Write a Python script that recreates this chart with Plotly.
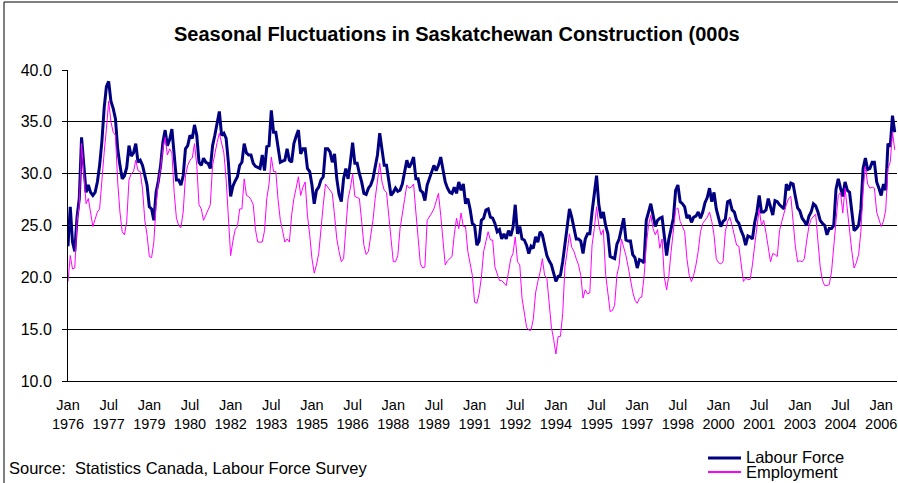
import plotly.graph_objects as go

# Monthly values, Jan 1976 - Jul 2006 (thousands), one year per line
labour_force = [
    23.0, 26.8, 23.4, 22.5, 25.8, 27.6, 33.5, 30.5, 28.2, 28.9, 28.2, 27.9,  # 1976
    28.2, 29.2, 30.8, 33.1, 36.3, 38.4, 38.9, 37.0, 36.3, 35.3, 32.4, 30.8,  # 1977
    29.5, 29.8, 30.6, 32.7, 31.7, 32.0, 32.9, 31.1, 31.3, 30.8, 29.9, 28.9,  # 1978
    26.8, 26.6, 25.5, 28.2, 29.3, 30.8, 33.0, 34.2, 32.7, 33.3, 34.3, 31.9,  # 1979
    29.4, 29.4, 28.9, 29.8, 32.4, 32.7, 33.7, 33.4, 34.7, 33.7, 31.1, 30.8,  # 1980
    31.5, 31.1, 31.0, 30.5, 32.7, 33.7, 34.7, 36.0, 33.7, 33.9, 33.4, 31.1,  # 1981
    27.8, 28.8, 29.3, 29.7, 30.8, 31.1, 32.9, 32.0, 31.8, 31.8, 31.0, 30.7,  # 1982
    30.6, 30.5, 31.8, 30.3, 32.6, 32.7, 36.1, 34.0, 34.0, 32.5, 31.1, 31.2,  # 1983
    31.3, 32.4, 31.3, 31.1, 32.9, 33.6, 34.2, 31.9, 32.4, 32.4, 30.5, 30.2,  # 1984
    28.9, 27.1, 28.4, 28.7, 29.4, 29.7, 32.4, 32.4, 32.1, 31.1, 31.9, 29.5,  # 1985
    28.0, 27.3, 29.5, 30.5, 29.5, 31.1, 33.0, 31.0, 31.0, 30.0, 29.2, 28.1,  # 1986
    28.0, 28.6, 28.9, 29.5, 30.8, 31.8, 33.9, 32.2, 30.8, 30.8, 29.5, 27.9,  # 1987
    28.2, 28.6, 28.3, 28.4, 29.0, 30.2, 31.3, 30.6, 31.0, 31.6, 29.5, 29.5,  # 1988
    28.4, 28.2, 27.4, 28.9, 29.5, 30.0, 30.8, 30.3, 30.8, 31.6, 30.2, 29.2,  # 1989
    28.6, 28.2, 28.1, 28.7, 28.1, 29.2, 28.4, 29.0, 27.1, 27.6, 26.6, 25.2,  # 1990
    25.0, 23.1, 23.5, 25.5, 25.7, 26.5, 26.6, 25.8, 25.7, 25.2, 24.4, 24.6,  # 1991
    23.7, 24.2, 23.7, 24.5, 24.0, 24.8, 27.0, 24.2, 24.9, 23.7, 23.6, 23.1,  # 1992
    22.3, 23.0, 22.8, 23.9, 23.4, 24.4, 24.1, 23.0, 22.1, 21.6, 21.2, 20.4,  # 1993
    19.6, 20.1, 20.2, 21.5, 23.1, 24.9, 26.6, 25.8, 24.7, 23.7, 23.7, 23.5,  # 1994
    22.3, 23.7, 24.2, 24.2, 26.3, 27.9, 29.8, 27.0, 25.7, 26.3, 25.0, 24.2,  # 1995
    22.0, 21.9, 21.8, 23.2, 23.7, 24.7, 25.7, 23.6, 23.5, 23.5, 22.2, 21.9,  # 1996
    20.9, 21.7, 21.6, 21.4, 25.5, 26.3, 27.1, 26.0, 24.9, 25.5, 25.7, 25.8,  # 1997
    23.6, 22.1, 23.7, 24.7, 25.7, 28.4, 28.9, 27.3, 27.1, 26.8, 25.7, 26.0,  # 1998
    25.3, 25.8, 25.9, 26.3, 25.7, 26.3, 27.2, 27.7, 28.6, 27.3, 28.2, 26.6,  # 1999
    25.7, 24.9, 25.4, 25.6, 27.3, 27.4, 26.5, 26.3, 25.5, 25.2, 24.5, 24.0,  # 2000
    23.1, 24.0, 23.9, 23.7, 25.3, 26.3, 27.9, 26.3, 26.3, 26.5, 27.6, 26.9,  # 2001
    26.0, 27.4, 27.3, 27.0, 26.8, 26.6, 29.0, 28.4, 29.1, 29.0, 27.8, 26.7,  # 2002
    26.4, 25.7, 25.4, 25.0, 25.9, 26.3, 27.1, 26.9, 26.3, 25.5, 25.2, 25.0,  # 2003
    24.1, 24.7, 24.7, 25.0, 28.5, 29.5, 28.6, 27.8, 29.2, 28.4, 28.2, 26.0,  # 2004
    24.5, 24.7, 25.0, 26.6, 30.5, 31.5, 30.4, 30.5, 31.1, 31.1, 29.2, 28.6,  # 2005
    27.9, 29.0, 28.4, 32.9, 32.6, 35.6, 34.0,                                # 2006
]

employment = [
    19.6, 22.1, 20.8, 20.9, 25.4, 27.0, 32.9, 29.8, 27.1, 27.6, 26.3, 24.9,  # 1976
    25.6, 26.3, 26.6, 29.5, 32.0, 34.3, 37.0, 35.0, 34.0, 33.7, 29.2, 26.3,  # 1977
    24.4, 24.1, 25.4, 29.4, 30.0, 30.2, 31.3, 30.3, 30.2, 28.5, 25.5, 24.1,  # 1978
    22.0, 21.9, 23.4, 27.0, 29.2, 30.5, 32.4, 33.5, 31.8, 32.4, 32.0, 28.2,  # 1979
    25.7, 25.0, 24.8, 26.3, 29.8, 30.8, 31.3, 31.5, 32.9, 30.8, 27.0, 26.6,  # 1980
    25.5, 26.0, 26.5, 27.0, 30.8, 32.1, 33.0, 33.9, 32.8, 32.0, 29.5, 26.3,  # 1981
    22.1, 23.5, 24.6, 24.9, 26.6, 26.6, 29.5, 27.9, 27.8, 27.5, 27.0, 24.6,  # 1982
    23.4, 23.4, 23.4, 24.5, 27.6, 29.0, 31.6, 30.2, 30.2, 27.5, 25.5, 24.5,  # 1983
    23.4, 23.7, 23.4, 26.0, 27.6, 28.6, 29.7, 27.9, 28.7, 29.2, 26.0, 24.1,  # 1984
    21.8, 20.4, 21.2, 22.3, 25.0, 27.0, 29.0, 28.7, 28.5, 28.1, 26.0, 23.7,  # 1985
    22.5, 21.5, 21.8, 24.4, 27.6, 28.6, 30.0, 27.8, 27.7, 27.6, 25.4, 23.1,  # 1986
    22.2, 22.5, 24.0, 25.5, 27.6, 29.2, 31.0, 29.2, 28.4, 28.2, 26.0, 23.7,  # 1987
    21.5, 21.5, 22.1, 24.7, 26.3, 27.5, 28.9, 28.6, 28.7, 29.0, 26.3, 23.7,  # 1988
    21.3, 20.9, 21.0, 25.5, 25.8, 26.2, 26.6, 27.3, 28.1, 26.0, 23.4, 21.2,  # 1989
    21.6, 21.8, 22.0, 24.1, 25.7, 24.7, 26.2, 24.9, 24.9, 22.5, 21.5, 20.2,  # 1990
    17.6, 17.5, 18.4, 20.0, 22.5, 23.5, 24.4, 23.6, 23.6, 21.0, 20.4, 19.7,  # 1991
    19.7, 19.4, 19.2, 20.5, 21.8, 22.3, 23.9, 21.5, 21.2, 18.0, 16.4, 15.2,  # 1992
    14.9, 14.9, 16.0, 18.5, 19.6, 20.5, 21.8, 20.2, 19.9, 17.3, 15.2, 14.0,  # 1993
    12.6, 14.3, 14.3, 16.5, 21.0, 22.5, 24.2, 22.9, 22.5, 21.8, 21.2, 20.2,  # 1994
    18.0, 18.8, 18.4, 18.5, 23.1, 24.7, 26.8, 25.0, 24.1, 24.6, 20.3, 18.5,  # 1995
    16.7, 16.8, 17.3, 20.2, 21.2, 23.7, 23.0, 22.1, 21.0, 19.6, 18.6, 17.8,  # 1996
    17.5, 18.0, 18.1, 20.0, 23.1, 25.0, 26.0, 24.7, 24.1, 24.6, 22.8, 23.7,  # 1997
    20.0, 18.8, 20.2, 22.5, 24.7, 26.5, 26.7, 25.4, 24.9, 24.4, 21.8, 20.2,  # 1998
    19.6, 20.2, 21.2, 22.5, 24.4, 25.2, 25.5, 25.8, 26.3, 25.4, 24.1, 21.8,  # 1999
    21.4, 21.3, 21.5, 24.4, 25.4, 25.8, 25.0, 24.1, 23.1, 23.0, 21.5, 19.6,  # 2000
    19.9, 19.8, 19.8, 21.2, 23.1, 25.0, 26.6, 25.0, 25.5, 24.3, 23.0, 21.5,  # 2001
    22.3, 22.2, 22.0, 24.5, 25.4, 26.3, 27.0, 27.6, 27.8, 25.4, 23.0, 21.5,  # 2002
    21.6, 21.5, 21.8, 23.5, 24.9, 25.6, 25.9, 26.1, 23.5, 21.0, 19.7, 19.2,  # 2003
    19.2, 19.3, 20.5, 23.1, 25.7, 27.9, 28.2, 26.2, 28.6, 26.5, 24.1, 22.5,  # 2004
    20.9, 21.4, 22.2, 24.4, 28.4, 30.7, 29.0, 28.6, 28.7, 28.6, 26.3, 25.7,  # 2005
    24.9, 25.4, 26.5, 30.5, 31.1, 34.0, 32.3,                                # 2006
]

tick_months = [0, 18, 36, 54, 72, 90, 108, 126, 144, 162, 180,
               198, 216, 234, 252, 270, 288, 306, 324, 342, 360]
tick_labels = ["Jan<br>1976", "Jul<br>1977", "Jan<br>1979", "Jul<br>1980",
               "Jan<br>1982", "Jul<br>1983", "Jan<br>1985", "Jul<br>1986",
               "Jan<br>1988", "Jul<br>1989", "Jan<br>1991", "Jul<br>1992",
               "Jan<br>1994", "Jul<br>1995", "Jan<br>1997", "Jul<br>1998",
               "Jan<br>2000", "Jul<br>2001", "Jan<br>2003", "Jul<br>2004",
               "Jan<br>2006"]
y_ticks = [10, 15, 20, 25, 30, 35, 40]

title_text = "Seasonal Fluctuations in Saskatchewan Construction (000s"
source_text = "Source:  Statistics Canada, Labour Force Survey"
series_names = ["Labour Force", "Employment"]
series_colors = ["#000080", "#FF00FF"]

months = list(range(len(labour_force)))

W, H = 898, 483
L, R, T, B = 68, 1, 70, 102
PW, PH = W - L - R, H - T - B
FONT = "Arial, Liberation Sans, sans-serif"


def px_x(px):
    return (px - L) / PW


def px_y(py):
    return (H - B - py) / PH


fig = go.Figure()
fig.add_trace(go.Scatter(x=months, y=labour_force, mode="lines", name=series_names[0],
                         line=dict(color=series_colors[0], width=3), showlegend=False))
fig.add_trace(go.Scatter(x=months, y=employment, mode="lines", name=series_names[1],
                         line=dict(color=series_colors[1], width=1), showlegend=False))

shapes = [
    # chart-area border (left and top visible)
    dict(type="rect", xref="paper", yref="paper", x0=px_x(4), x1=px_x(1000),
         y0=px_y(1000), y1=px_y(2), line=dict(color="black", width=1), layer="below"),
    # legend samples
    dict(type="line", xref="paper", yref="paper", x0=px_x(708), x1=px_x(741),
         y0=px_y(458), y1=px_y(458), line=dict(color=series_colors[0], width=3)),
    dict(type="line", xref="paper", yref="paper", x0=px_x(708), x1=px_x(741),
         y0=px_y(472), y1=px_y(472), line=dict(color=series_colors[1], width=2)),
]

annotations = [
    dict(text="<b>" + title_text + "</b>", xref="paper", yref="paper",
         x=px_x(172), y=px_y(34), xanchor="left", yanchor="middle", showarrow=False,
         font=dict(family=FONT, size=20, color="black")),
    dict(text=source_text, xref="paper", yref="paper", x=px_x(7), y=px_y(468),
         xanchor="left", yanchor="middle", showarrow=False,
         font=dict(family=FONT, size=16.5, color="black")),
    dict(text=series_names[0], xref="paper", yref="paper", x=px_x(744), y=px_y(457),
         xanchor="left", yanchor="middle", showarrow=False,
         font=dict(family=FONT, size=16.5, color="black")),
    dict(text=series_names[1], xref="paper", yref="paper", x=px_x(744), y=px_y(472),
         xanchor="left", yanchor="middle", showarrow=False,
         font=dict(family=FONT, size=16.5, color="black")),
]

fig.update_layout(
    width=W, height=H,
    margin=dict(l=L, r=R, t=T, b=B, pad=0),
    paper_bgcolor="white", plot_bgcolor="white",
    font=dict(family=FONT, color="black"),
    shapes=shapes, annotations=annotations,
    showlegend=False,
    hovermode=False,
    xaxis=dict(range=[0, 367], tickvals=tick_months, ticktext=tick_labels,
               showgrid=False, zeroline=False, showline=True, linecolor="black",
               linewidth=1, ticks="", tickangle=0, ticklabelstandoff=11,
               tickfont=dict(family=FONT, size=14.5, color="black")),
    yaxis=dict(range=[10, 40], tickvals=y_ticks, tickformat=".1f",
               showgrid=True, gridcolor="black", gridwidth=1, zeroline=False,
               showline=True, linecolor="black", linewidth=1,
               ticks="outside", ticklen=5, tickcolor="black", ticklabelstandoff=7,
               tickfont=dict(family=FONT, size=16, color="black")),
)

fig.write_html("out.html", config={"displayModeBar": False},
               post_script="document.body.style.margin='0px';")
